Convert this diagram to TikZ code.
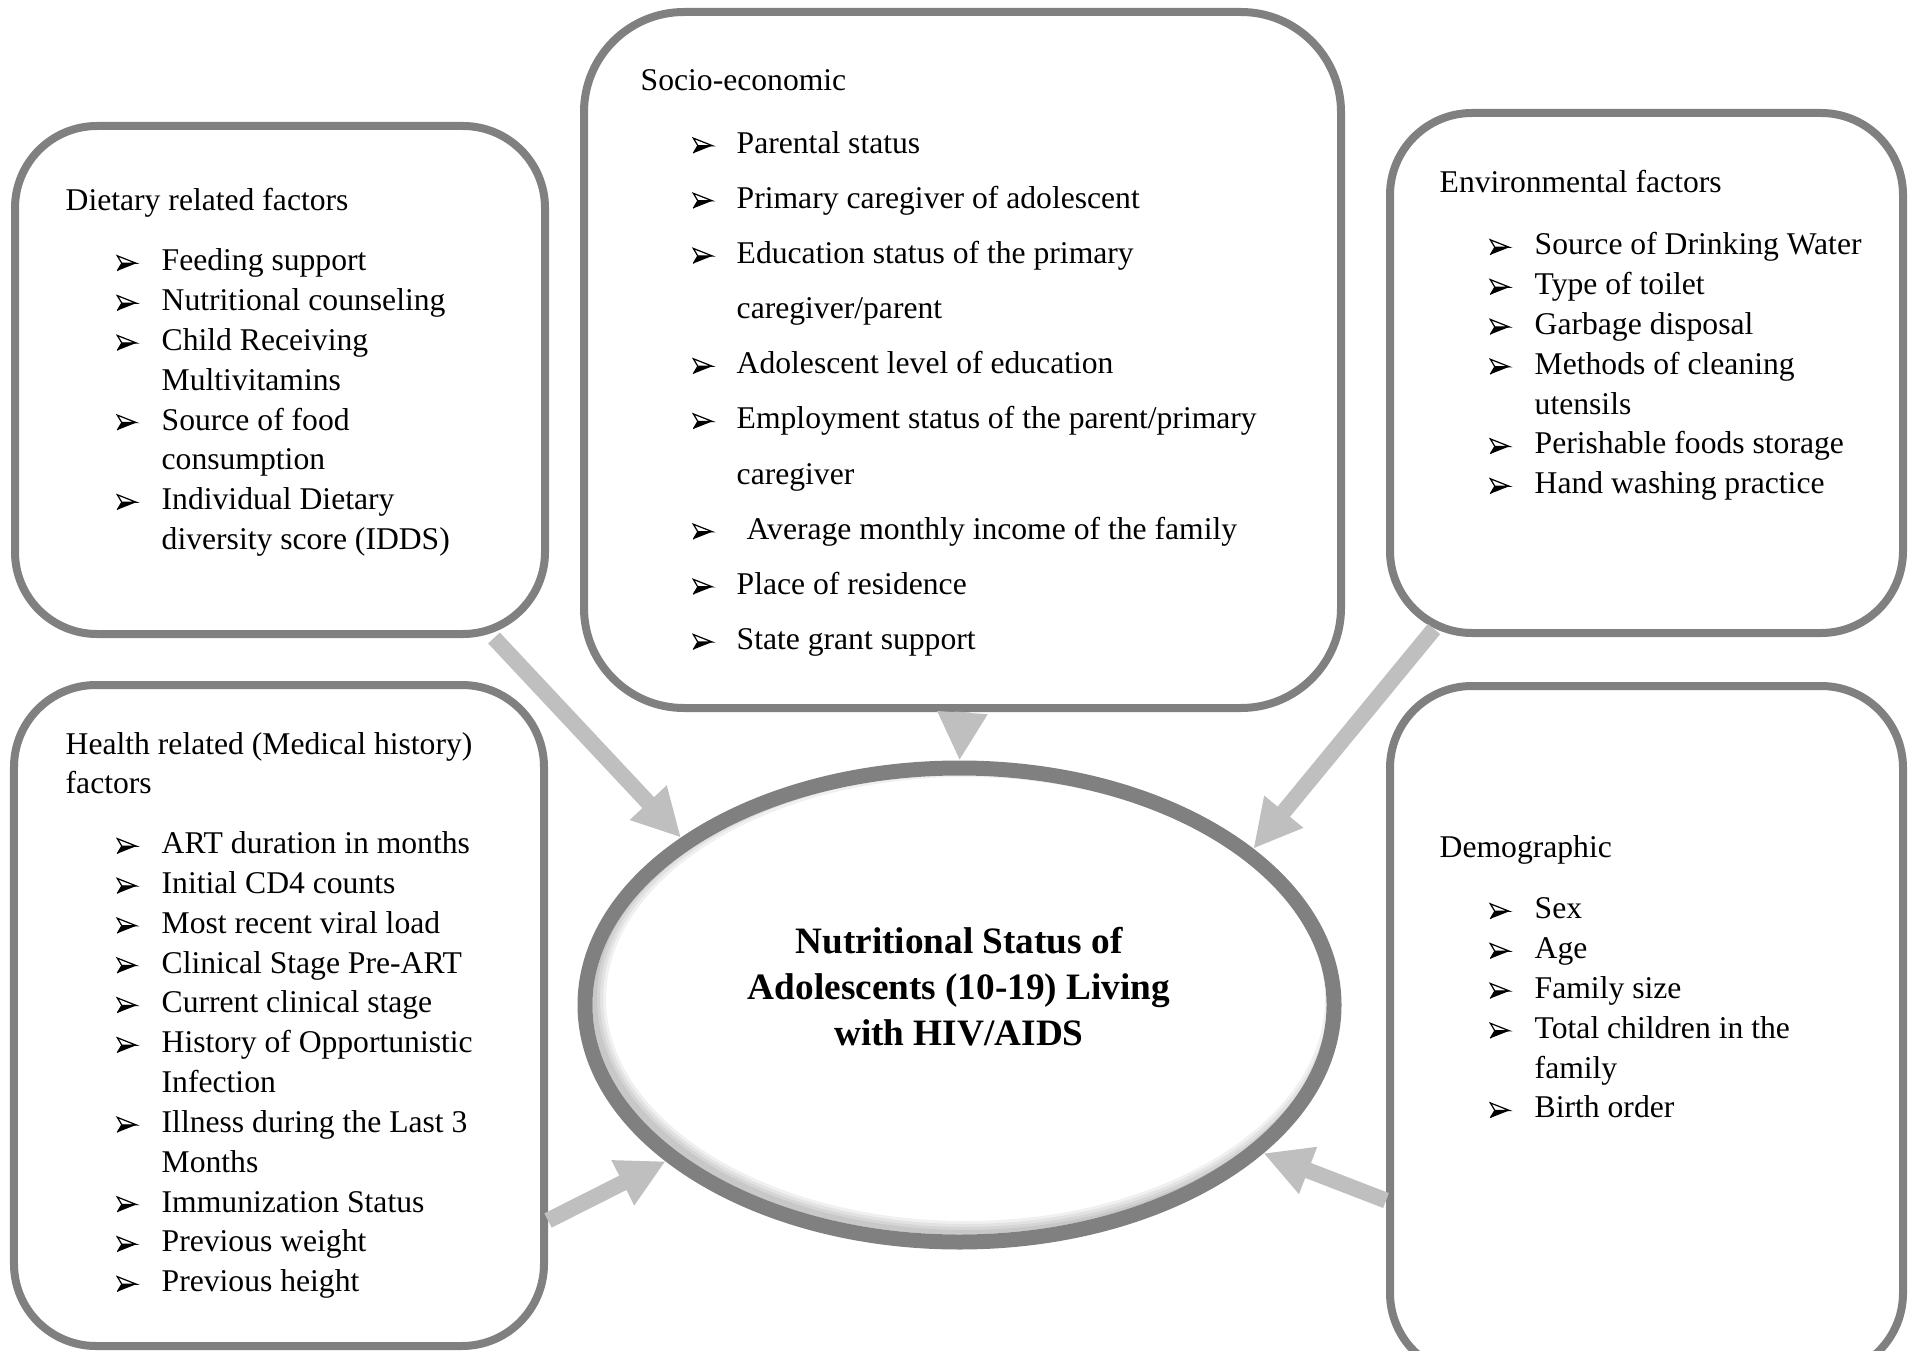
\documentclass[tikz,border=0pt]{standalone}
\usepackage{fontspec}
\setmainfont{Liberation Serif}
\usetikzlibrary{arrows.meta, calc, shapes.geometric}

\definecolor{boxgray}{gray}{0.5}
\definecolor{arrgray}{gray}{0.75}
% 3-D arrowhead bullet
\newcommand{\bul}{\tikz[baseline=0pt, line width=0.35pt, line join=miter]{%
  \fill (0,0) -- (0.19,0.075) -- (0.045,0.075) -- cycle;
  \draw (0,0.15) -- (0.19,0.075) -- (0.045,0.075) -- cycle;
  \draw (0,0) -- (0.045,0.075);}}

\tikzset{
  factor/.style={draw=boxgray, line width=0.08cm, rounded corners=0.82cm},
  list/.style={anchor=base west, inner sep=0pt, font=\fontsize{9}{11.33}\selectfont},
  flow/.style={-{Triangle[length=0.48cm, width=0.47cm]}, draw=arrgray, line width=0.16cm}
}

\begin{document}
\begin{tikzpicture}
  \useasboundingbox (0,0) rectangle (19.11,13.5);
  % the five groups of factors
  \node[factor, minimum width=5.30cm, minimum height=5.08cm] (diet) at (2.80,9.70) {};
  \node[factor, minimum width=5.30cm, minimum height=6.61cm] (health) at (2.79,3.345) {};
  \node[factor, rounded corners=1cm, minimum width=7.57cm, minimum height=6.96cm] (socio) at (9.625,9.90) {};
  \node[factor, minimum width=5.13cm, minimum height=5.20cm] (env) at (16.465,9.77) {};
  \node[factor, minimum width=5.13cm, minimum height=6.89cm] (demo) at (16.465,3.195) {};

  \node[list] (dietList) at (0.65,11.39) {%
    \begin{tabular}[t]{@{}p{0.51cm}@{}p{0.45cm}@{}l@{}}
      \multicolumn{3}{@{}l@{}}{Dietary related factors}\\[0.2cm]
      & \bul & Feeding support\\
      & \bul & Nutritional counseling\\
      & \bul & Child Receiving\\
      &      & Multivitamins\\
      & \bul & Source of food\\
      &      & consumption\\
      & \bul & Individual Dietary\\
      &      & diversity score (IDDS)\\
    \end{tabular}};

  \node[list] (healthList) at (0.65,5.96) {%
    \begin{tabular}[t]{@{}p{0.51cm}@{}p{0.45cm}@{}l@{}}
      \multicolumn{3}{@{}l@{}}{Health related (Medical history)}\\
      \multicolumn{3}{@{}l@{}}{factors}\\[0.2cm]
      & \bul & ART duration in months\\
      & \bul & Initial CD4 counts\\
      & \bul & Most recent viral load\\
      & \bul & Clinical Stage Pre-ART\\
      & \bul & Current clinical stage\\
      & \bul & History of Opportunistic\\
      &      & Infection\\
      & \bul & Illness during the Last 3\\
      &      & Months\\
      & \bul & Immunization Status\\
      & \bul & Previous weight\\
      & \bul & Previous height\\
    \end{tabular}};

  \node[list] (socioList) at (6.40,12.59) {%
    \renewcommand{\arraystretch}{1.385}%
    \begin{tabular}[t]{@{}p{0.52cm}@{}p{0.44cm}@{}l@{}}
      \multicolumn{3}{@{}l@{}}{Socio-economic}\\[0.07cm]
      & \bul & Parental status\\
      & \bul & Primary caregiver of adolescent\\
      & \bul & Education status of the primary\\
      &      & caregiver/parent\\
      & \bul & Adolescent level of education\\
      & \bul & Employment status of the parent/primary\\
      &      & caregiver\\
      & \bul & \hspace{0.1cm}Average monthly income of the family\\
      & \bul & Place of residence\\
      & \bul & State grant support\\
    \end{tabular}};

  \node[list] (envList) at (14.39,11.57) {%
    \begin{tabular}[t]{@{}p{0.50cm}@{}p{0.45cm}@{}l@{}}
      \multicolumn{3}{@{}l@{}}{Environmental factors}\\[0.22cm]
      & \bul & Source of Drinking Water\\
      & \bul & Type of toilet\\
      & \bul & Garbage disposal\\
      & \bul & Methods of cleaning\\
      &      & utensils\\
      & \bul & Perishable foods storage\\
      & \bul & Hand washing practice\\
    \end{tabular}};

  \node[list] (demoList) at (14.39,4.93) {%
    \begin{tabular}[t]{@{}p{0.50cm}@{}p{0.45cm}@{}l@{}}
      \multicolumn{3}{@{}l@{}}{Demographic}\\[0.22cm]
      & \bul & Sex\\
      & \bul & Age\\
      & \bul & Family size\\
      & \bul & Total children in the\\
      &      & family\\
      & \bul & Birth order\\
    \end{tabular}};

  % outcome in the middle, with a soft inner shadow
  \coordinate (mid) at (9.595,3.45);
  \begin{scope}
    \clip (mid) ellipse [x radius=3.67cm, y radius=2.295cm];
    \draw[black, opacity=0.06, line width=0.12cm] ($(mid)+(0.06,0.06)$) ellipse [x radius=3.745cm, y radius=2.37cm];
    \draw[black, opacity=0.06, line width=0.18cm] ($(mid)+(0.06,0.06)$) ellipse [x radius=3.745cm, y radius=2.37cm];
    \draw[black, opacity=0.06, line width=0.24cm] ($(mid)+(0.06,0.06)$) ellipse [x radius=3.745cm, y radius=2.37cm];
    \draw[black, opacity=0.06, line width=0.30cm] ($(mid)+(0.06,0.06)$) ellipse [x radius=3.745cm, y radius=2.37cm];
  \end{scope}
  \node[ellipse, draw=boxgray, line width=0.15cm, minimum width=7.49cm, minimum height=4.74cm, inner sep=0pt] (ell) at (mid) {};
  \node[anchor=base, inner sep=0pt, font=\bfseries\fontsize{10.6}{13.2}\selectfont] (goal) at (9.59,3.97) {%
    \begin{tabular}[t]{@{}c@{}}
      Nutritional Status of\\
      Adolescents (10-19) Living\\
      with HIV/AIDS
    \end{tabular}};

  % arrows into the outcome
  \draw[flow] ($(diet.south east)+(-0.55,0)$) -- (ell.149);
  \draw[flow] (socio.south) -- (ell.north);
  \draw[flow] ($(env.south west)+(0.48,0.08)$) -- (ell.28);
  \draw[flow] ($(health.east)+(0,-2.05)$) -- (ell.208);
  \draw[flow] ($(demo.west)+(0,-1.7)$) -- (ell.334);
\end{tikzpicture}
\end{document}
